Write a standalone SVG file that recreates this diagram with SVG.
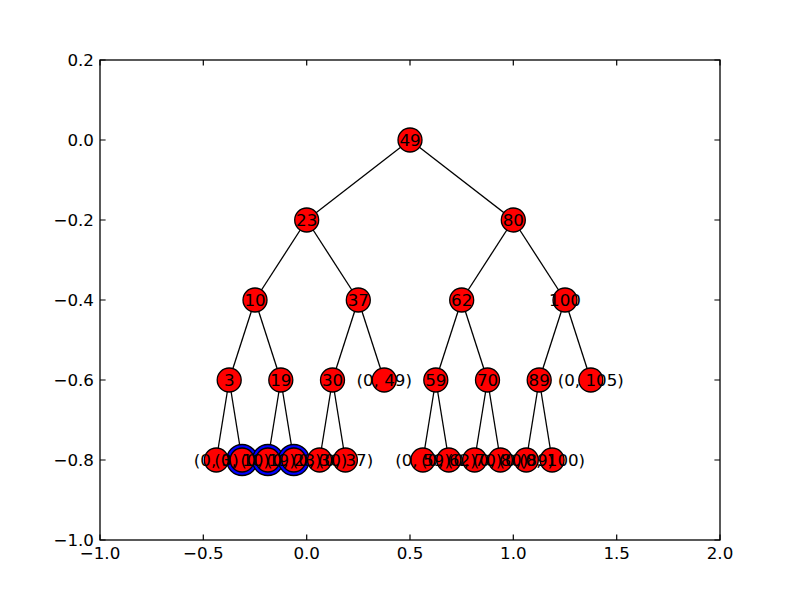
<svg xmlns="http://www.w3.org/2000/svg" width="800" height="600" viewBox="0 0 800 600">
<defs>
<style>
.ax{fill:none;stroke:#000;stroke-width:1.3}
.tk{stroke:#000;stroke-width:1.2}
.tl{font-family:"DejaVu Sans",sans-serif;font-size:16.7px;fill:#000}
.e{stroke:#000;stroke-width:1.3}
.n circle{fill:#ff0000;stroke:#000;stroke-width:1.3}
.b circle{fill:#0000ff;stroke:#000;stroke-width:1.3}
.n text{font-family:"DejaVu Sans",sans-serif;font-size:16.7px;fill:#000;text-anchor:middle}
</style>
</defs>
<rect width="800" height="600" fill="#fff"/>
<g id="axes">
<rect class="ax" x="100" y="60" width="620" height="480"/>
<g class="tk">
<path d="M100,540v-5.6M203.3,540v-5.6M306.7,540v-5.6M410,540v-5.6M513.3,540v-5.6M616.7,540v-5.6M720,540v-5.6"/>
<path d="M100,60v5.6M203.3,60v5.6M306.7,60v5.6M410,60v5.6M513.3,60v5.6M616.7,60v5.6M720,60v5.6"/>
<path d="M100,60h5.6M100,140h5.6M100,220h5.6M100,300h5.6M100,380h5.6M100,460h5.6M100,540h5.6"/>
<path d="M720,60h-5.6M720,140h-5.6M720,220h-5.6M720,300h-5.6M720,380h-5.6M720,460h-5.6M720,540h-5.6"/>
</g>
<g class="tl" text-anchor="end">
<text x="94" y="66">0.2</text>
<text x="94" y="146">0.0</text>
<text x="94" y="226">−0.2</text>
<text x="94" y="306">−0.4</text>
<text x="94" y="386">−0.6</text>
<text x="94" y="466">−0.8</text>
<text x="94" y="546">−1.0</text>
</g>
<g class="tl" text-anchor="middle">
<text x="100" y="559">−1.0</text>
<text x="203.3" y="559">−0.5</text>
<text x="306.7" y="559">0.0</text>
<text x="410" y="559">0.5</text>
<text x="513.3" y="559">1.0</text>
<text x="616.7" y="559">1.5</text>
<text x="720" y="559">2.0</text>
</g>
</g>
<g id="edges" class="e">
<line x1="410" y1="140" x2="306.7" y2="220"/>
<line x1="410" y1="140" x2="513.3" y2="220"/>
<line x1="306.7" y1="220" x2="255" y2="300"/>
<line x1="306.7" y1="220" x2="358.3" y2="300"/>
<line x1="513.3" y1="220" x2="461.7" y2="300"/>
<line x1="513.3" y1="220" x2="565" y2="300"/>
<line x1="255" y1="300" x2="229.2" y2="380"/>
<line x1="255" y1="300" x2="280.8" y2="380"/>
<line x1="358.3" y1="300" x2="332.5" y2="380"/>
<line x1="358.3" y1="300" x2="384.2" y2="380"/>
<line x1="461.7" y1="300" x2="435.8" y2="380"/>
<line x1="461.7" y1="300" x2="487.5" y2="380"/>
<line x1="565" y1="300" x2="539.2" y2="380"/>
<line x1="565" y1="300" x2="590.8" y2="380"/>
<line x1="229.2" y1="380" x2="216.3" y2="460"/>
<line x1="229.2" y1="380" x2="242.1" y2="460"/>
<line x1="280.8" y1="380" x2="267.9" y2="460"/>
<line x1="280.8" y1="380" x2="293.8" y2="460"/>
<line x1="332.5" y1="380" x2="319.6" y2="460"/>
<line x1="332.5" y1="380" x2="345.4" y2="460"/>
<line x1="435.8" y1="380" x2="422.9" y2="460"/>
<line x1="435.8" y1="380" x2="448.8" y2="460"/>
<line x1="487.5" y1="380" x2="474.6" y2="460"/>
<line x1="487.5" y1="380" x2="500.4" y2="460"/>
<line x1="539.2" y1="380" x2="526.3" y2="460"/>
<line x1="539.2" y1="380" x2="552.1" y2="460"/>
</g>
<g id="highlight" class="b">
<circle cx="242.1" cy="460" r="15.5"/>
<circle cx="267.9" cy="460" r="15.5"/>
<circle cx="293.8" cy="460" r="15.5"/>
</g>
<g class="n">
<g id="n49"><circle cx="410" cy="140" r="12"/></g>
<g id="n23"><circle cx="306.7" cy="220" r="12"/></g>
<g id="n80"><circle cx="513.3" cy="220" r="12"/></g>
<g id="n10"><circle cx="255" cy="300" r="12"/></g>
<g id="n37"><circle cx="358.3" cy="300" r="12"/></g>
<g id="n62"><circle cx="461.7" cy="300" r="12"/></g>
<g id="n100"><circle cx="565" cy="300" r="12"/></g>
<g id="n3"><circle cx="229.2" cy="380" r="12"/></g>
<g id="n19"><circle cx="280.8" cy="380" r="12"/></g>
<g id="n30"><circle cx="332.5" cy="380" r="12"/></g>
<g id="l49"><circle cx="384.2" cy="380" r="12"/></g>
<g id="n59"><circle cx="435.8" cy="380" r="12"/></g>
<g id="n70"><circle cx="487.5" cy="380" r="12"/></g>
<g id="n89"><circle cx="539.2" cy="380" r="12"/></g>
<g id="l105"><circle cx="590.8" cy="380" r="12"/></g>
<g id="l3"><circle cx="216.3" cy="460" r="12"/></g>
<g id="l10"><circle cx="242.1" cy="460" r="12"/></g>
<g id="l19"><circle cx="267.9" cy="460" r="12"/></g>
<g id="l23"><circle cx="293.8" cy="460" r="12"/></g>
<g id="l30"><circle cx="319.6" cy="460" r="12"/></g>
<g id="l37"><circle cx="345.4" cy="460" r="12"/></g>
<g id="l59"><circle cx="422.9" cy="460" r="12"/></g>
<g id="l62"><circle cx="448.8" cy="460" r="12"/></g>
<g id="l70"><circle cx="474.6" cy="460" r="12"/></g>
<g id="l80"><circle cx="500.4" cy="460" r="12"/></g>
<g id="l89"><circle cx="526.3" cy="460" r="12"/></g>
<g id="l100"><circle cx="552.1" cy="460" r="12"/></g>
<g id="labels">
<text x="410" y="146">49</text>
<text x="306.7" y="226">23</text>
<text x="513.3" y="226">80</text>
<text x="255" y="306">10</text>
<text x="358.3" y="306">37</text>
<text x="461.7" y="306">62</text>
<text x="565" y="306">100</text>
<text x="229.2" y="386">3</text>
<text x="280.8" y="386">19</text>
<text x="332.5" y="386">30</text>
<text x="384.2" y="386">(0, 49)</text>
<text x="435.8" y="386">59</text>
<text x="487.5" y="386">70</text>
<text x="539.2" y="386">89</text>
<text x="590.8" y="386">(0, 105)</text>
<text x="216.3" y="466">(0, 3)</text>
<text x="242.1" y="466">(0, 10)</text>
<text x="267.9" y="466">(0, 19)</text>
<text x="293.8" y="466">(0, 23)</text>
<text x="319.6" y="466">(0, 30)</text>
<text x="345.4" y="466">(0, 37)</text>
<text x="422.9" y="466">(0, 59)</text>
<text x="448.8" y="466">(0, 62)</text>
<text x="474.6" y="466">(0, 70)</text>
<text x="500.4" y="466">(0, 80)</text>
<text x="526.3" y="466">(0, 89)</text>
<text x="552.1" y="466">(0, 100)</text>
</g>
</g>
</svg>
